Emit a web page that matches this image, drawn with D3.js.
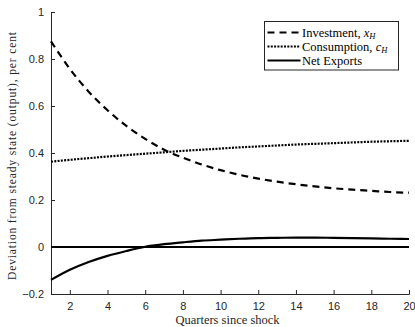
<!DOCTYPE html>
<html><head><meta charset="utf-8">
<script src="https://cdn.jsdelivr.net/npm/d3@7"></script>
<style>body{margin:0;background:#fff}svg{display:block}</style>
</head><body>
<script>
const quarters = d3.range(1, 21);
const investment = [0.875,0.758,0.661,0.582,0.515,0.460,0.414,0.380,0.351,0.327,0.307,0.291,0.278,0.267,0.258,0.250,0.244,0.239,0.234,0.231];
const consumption = [0.363,0.371,0.378,0.385,0.391,0.397,0.403,0.409,0.414,0.419,0.424,0.428,0.432,0.436,0.439,0.442,0.445,0.448,0.450,0.452];
const netExports = [-0.140,-0.097,-0.064,-0.038,-0.017,0.001,0.012,0.020,0.027,0.031,0.035,0.038,0.039,0.040,0.040,0.039,0.038,0.037,0.035,0.034];
const xTicks = [2,4,6,8,10,12,14,16,18,20];
const yTicks = [-0.2,0,0.2,0.4,0.6,0.8,1];

const W = 415, H = 327;
const m = {left:51, right:6, top:12, bottom:33};
const svg = d3.select("body").append("svg").attr("width", W).attr("height", H);
const x = d3.scaleLinear().domain([1,20]).range([m.left, W - m.right]);
const y = d3.scaleLinear().domain([-0.2,1]).range([H - m.bottom, m.top]);
const axisColor = "#262626";
const tickFont = "Liberation Sans, Arial, sans-serif";
const serif = "Liberation Serif, Times New Roman, serif";

// axes
const gx = svg.append("g").attr("transform", `translate(0,${y(-0.2)})`)
  .call(d3.axisBottom(x).tickValues(xTicks).tickSize(-4).tickPadding(8).tickFormat(d3.format("d")));
const gy = svg.append("g").attr("transform", `translate(${x(1)},0)`)
  .call(d3.axisLeft(y).tickValues(yTicks).tickSize(-4).tickPadding(7).tickFormat(d => d === 0 ? "0" : d3.format("")(d)));
[gx, gy].forEach(g => {
  g.select(".domain").attr("stroke", axisColor).attr("stroke-width", 1);
  g.selectAll(".tick line").attr("stroke", axisColor);
  g.selectAll(".tick text").attr("fill", axisColor).style("font-family", tickFont).style("font-size", "11px");
});

// zero line
svg.append("line").attr("x1", x(1)).attr("x2", x(20)).attr("y1", y(0)).attr("y2", y(0))
  .attr("stroke", "#000").attr("stroke-width", 2);

const line = d3.line().x((d,i) => x(quarters[i])).y(d => y(d)).curve(d3.curveMonotoneX);
svg.append("path").attr("d", line(investment)).attr("fill","none").attr("stroke","#000")
  .attr("stroke-width", 2.2).attr("stroke-dasharray", "7,5");
svg.append("path").attr("d", line(consumption)).attr("fill","none").attr("stroke","#000")
  .attr("stroke-width", 2.2).attr("stroke-dasharray", "2,1.3");
svg.append("path").attr("d", line(netExports)).attr("fill","none").attr("stroke","#000")
  .attr("stroke-width", 2.2);

// labels
svg.append("text").attr("x", 227.5).attr("y", 324).attr("text-anchor","middle")
  .style("font-family", serif).style("font-size","12.5px").attr("fill", axisColor).text("Quarters since shock");
svg.append("text").attr("transform", `translate(16,156) rotate(-90)`).attr("text-anchor","middle")
  .style("font-family", serif).style("font-size","11.5px").attr("fill", axisColor)
  .attr("textLength", 248).attr("lengthAdjust", "spacing")
  .text("Deviation from steady state (output), per cent");

// legend
const lg = svg.append("g");
lg.append("rect").attr("x", 264.5).attr("y", 21.5).attr("width", 134).attr("height", 48.5)
  .attr("fill","#fff").attr("stroke", axisColor).attr("stroke-width", 1);
const items = [
  {dash:"7,5", name:"Investment, ", v:"x"},
  {dash:"2,1.3", name:"Consumption, ", v:"c"},
  {dash:null, name:"Net Exports", v:null}
];
items.forEach((it, i) => {
  const yy = 32.5 + i*14;
  lg.append("line").attr("x1", 267.5).attr("x2", 300.5).attr("y1", yy).attr("y2", yy)
    .attr("stroke","#000").attr("stroke-width", 2.2).attr("stroke-dasharray", it.dash);
  const t = lg.append("text").attr("x", 302).attr("y", yy + 4)
    .style("font-family", serif).style("font-size","12.5px").attr("fill","#000");
  t.append("tspan").text(it.name);
  if (it.v) {
    t.append("tspan").style("font-style","italic").text(it.v);
    t.append("tspan").attr("dy", 2.5).style("font-style","italic").style("font-size","8.5px").text("H");
  }
});
</script>
</body></html>
